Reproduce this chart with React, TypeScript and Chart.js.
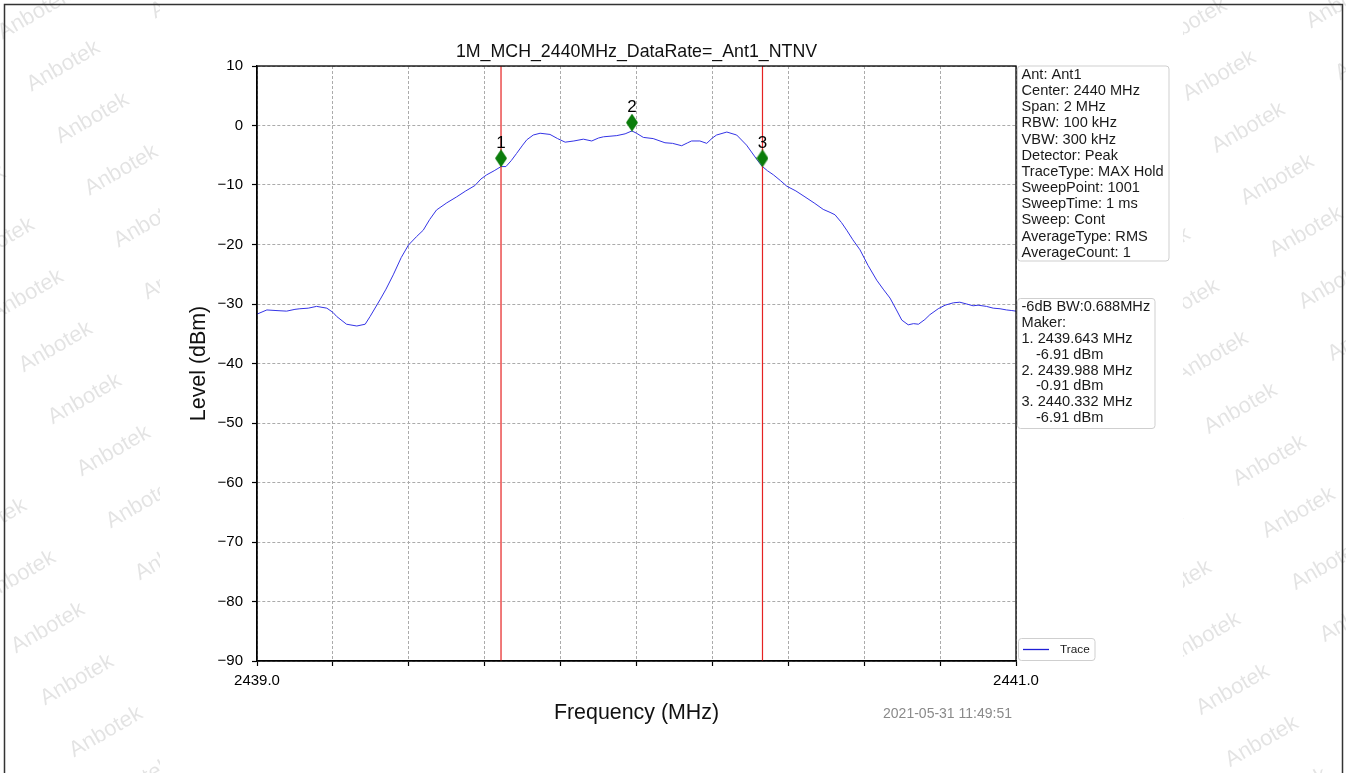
import React, { useEffect, useRef } from "react";
import { Chart, registerables } from "chart.js";

Chart.register(...registerables);

const W = 1346;
const H = 773;
const FONT = "'Liberation Sans', Arial, Helvetica, sans-serif";

// ---- data ----
const traceFreq = [
  2439.0, 2439.026, 2439.05, 2439.078, 2439.1, 2439.113, 2439.135, 2439.157, 2439.184, 2439.2,
  2439.21, 2439.236, 2439.263, 2439.285, 2439.298, 2439.324, 2439.34, 2439.359, 2439.38, 2439.399,
  2439.42, 2439.438, 2439.455, 2439.473, 2439.5, 2439.526, 2439.55, 2439.574, 2439.59, 2439.605,
  2439.625, 2439.643, 2439.656, 2439.67, 2439.684, 2439.7, 2439.711, 2439.728, 2439.746, 2439.772,
  2439.792, 2439.812, 2439.835, 2439.86, 2439.882, 2439.9, 2439.913, 2439.948, 2439.97, 2439.988,
  2440.0, 2440.018, 2440.044, 2440.075, 2440.095, 2440.119, 2440.135, 2440.145, 2440.167, 2440.185,
  2440.2, 2440.211, 2440.238, 2440.264, 2440.29, 2440.317, 2440.332, 2440.345, 2440.361, 2440.38,
  2440.396, 2440.42, 2440.444, 2440.47, 2440.492, 2440.51, 2440.523, 2440.54, 2440.554, 2440.57,
  2440.589, 2440.61, 2440.633, 2440.65, 2440.668, 2440.685, 2440.699, 2440.716, 2440.73, 2440.743,
  2440.76, 2440.773, 2440.795, 2440.813, 2440.835, 2440.852, 2440.87, 2440.887, 2440.9, 2440.922,
  2440.94, 2440.958, 2440.975, 2440.989, 2441.0,
];
const traceLevel = [
  -31.7, -31.0, -31.1, -31.2, -30.9, -30.8, -30.7, -30.4, -30.7, -31.4,
  -32.1, -33.4, -33.7, -33.4, -32.1, -29.3, -27.5, -25.1, -22.2, -20.1,
  -18.7, -17.6, -15.8, -14.2, -13.0, -12.0, -11.0, -10.1, -9.0, -8.3,
  -7.6, -6.91, -6.9, -5.9, -4.7, -3.3, -2.4, -1.6, -1.3, -1.5,
  -2.2, -2.8, -2.6, -2.3, -2.6, -2.1, -1.9, -1.7, -1.4, -0.91,
  -1.3, -2.0, -2.2, -2.9, -3.0, -3.4, -2.9, -2.6, -2.6, -3.0,
  -2.1, -1.6, -1.1, -1.6, -3.3, -5.7, -6.91, -7.6, -8.3, -9.3,
  -10.2, -11.0, -12.0, -13.1, -14.1, -14.6, -15.0, -16.3, -17.6, -19.2,
  -20.9, -23.5, -26.0, -27.5, -29.0, -31.0, -32.7, -33.5, -33.3, -33.4,
  -32.6, -31.8, -30.8, -30.2, -29.8, -29.7, -30.0, -30.3, -30.2, -30.4,
  -30.7, -30.8, -31.0, -31.1, -31.2,
];
const markerFreq = [2439.643, 2439.988, 2440.332];
const markerLevel = [-6.91, -0.91, -6.91];
const markerNames = ["1", "2", "3"];
const markerLift = 1.4; // diamond drawn slightly above the trace
const bwLineFreq = [2439.643, 2440.332];
const bandwidthMHz = 0.688;

const xMin = 2439.0;
const xMax = 2441.0;
const xStep = 0.2;
const yMin = -90;
const yMax = 10;
const yStep = 10;

const titleText = "1M_MCH_2440MHz_DataRate=_Ant1_NTNV";
const xTitle = "Frequency (MHz)";
const yTitle = "Level (dBm)";
const timestamp = "2021-05-31 11:49:51";
const seriesName = "Trace";
const watermark = "Anbotek";
const infoLines = [
  "Ant: Ant1",
  "Center: 2440 MHz",
  "Span: 2 MHz",
  "RBW: 100 kHz",
  "VBW: 300 kHz",
  "Detector: Peak",
  "TraceType: MAX Hold",
  "SweepPoint: 1001",
  "SweepTime: 1 ms",
  "Sweep: Cont",
  "AverageType: RMS",
  "AverageCount: 1",
];

const TRACE_COLOR = "#3434e6";

function makeDiamond(): HTMLCanvasElement {
  const c = document.createElement("canvas");
  c.width = 12;
  c.height = 18;
  const g = c.getContext("2d")!;
  g.fillStyle = "#0b7d0b";
  g.beginPath();
  g.moveTo(6, 0);
  g.lineTo(12, 9);
  g.lineTo(6, 18);
  g.lineTo(0, 9);
  g.closePath();
  g.fill();
  return c;
}

function box(ctx: CanvasRenderingContext2D, x: number, y: number, w: number, h: number) {
  ctx.save();
  ctx.beginPath();
  (ctx as any).roundRect ? (ctx as any).roundRect(x, y, w, h, 3) : ctx.rect(x, y, w, h);
  ctx.fillStyle = "rgba(255,255,255,0.85)";
  ctx.fill();
  ctx.strokeStyle = "#cfcfcf";
  ctx.lineWidth = 1;
  ctx.stroke();
  ctx.restore();
}

const decorPlugin = {
  id: "decor",
  beforeDraw(chart: any) {
    const ctx: CanvasRenderingContext2D = chart.ctx;
    ctx.save();
    ctx.fillStyle = "#fff";
    ctx.fillRect(0, 0, W, H);
    // watermark tiling
    ctx.font = `22px ${FONT}`;
    ctx.fillStyle = "rgba(0,0,0,0.11)";
    ctx.textAlign = "center";
    ctx.textBaseline = "middle";
    for (let m = -25; m <= 25; m++) {
      for (let n = -12; n <= 12; n++) {
        const x = 77 + 29 * m + 152.7 * n;
        const y = 680 + 52 * m - 20.9 * n;
        if (x < -100 || x > W + 100 || y < -80 || y > H + 80) continue;
        ctx.save();
        ctx.translate(x, y);
        ctx.rotate(-Math.PI / 6);
        ctx.fillText(watermark, 0, 0);
        ctx.restore();
      }
    }
    ctx.fillStyle = "#fff";
    ctx.fillRect(160, 0, 1023, H);
    ctx.restore();
  },
  afterDatasetsDraw(chart: any) {
    const ctx: CanvasRenderingContext2D = chart.ctx;
    const a = chart.chartArea;
    const xs = chart.scales.x;
    const ys = chart.scales.y;
    ctx.save();
    ctx.strokeStyle = "#000";
    ctx.lineWidth = 1.3;
    ctx.strokeRect(a.left, a.top, a.right - a.left, a.bottom - a.top);
    // marker numbers
    ctx.fillStyle = "#000";
    ctx.font = `17px ${FONT}`;
    ctx.textAlign = "center";
    ctx.textBaseline = "middle";
    markerFreq.forEach((f, i) => {
      const px = xs.getPixelForValue(f);
      const py = ys.getPixelForValue(markerLevel[i] + markerLift);
      ctx.fillText(markerNames[i], px, py - 15);
    });
    ctx.restore();
  },
  afterDraw(chart: any) {
    const ctx: CanvasRenderingContext2D = chart.ctx;
    const a = chart.chartArea;
    ctx.save();
    // title
    ctx.fillStyle = "#111";
    ctx.textAlign = "center";
    ctx.textBaseline = "alphabetic";
    ctx.font = `17.8px ${FONT}`;
    ctx.fillText(titleText, (a.left + a.right) / 2, 57);
    // axis titles
    ctx.font = `21.4px ${FONT}`;
    ctx.fillText(xTitle, (a.left + a.right) / 2, 719);
    ctx.save();
    ctx.translate(199, (a.top + a.bottom) / 2);
    ctx.rotate(-Math.PI / 2);
    ctx.textBaseline = "middle";
    ctx.fillText(yTitle, 0, 0);
    ctx.restore();
    // timestamp
    ctx.font = `14px ${FONT}`;
    ctx.fillStyle = "#8a8a8a";
    ctx.textAlign = "right";
    ctx.textBaseline = "middle";
    ctx.fillText(timestamp, 1012, 714);

    // info box
    box(ctx, 1017.5, 66, 151.5, 195);
    ctx.fillStyle = "#1a1a1a";
    ctx.textAlign = "left";
    ctx.font = `14.6px ${FONT}`;
    infoLines.forEach((t, i) => ctx.fillText(t, 1021.5, 75 + i * 16.15));

    // marker box
    const mLines: [string, number][] = [
      [`-6dB BW:${bandwidthMHz.toFixed(3)}MHz`, 1021.5],
      ["Maker:", 1021.5],
    ];
    markerFreq.forEach((f, i) => {
      mLines.push([`${i + 1}. ${f.toFixed(3)} MHz`, 1021.5]);
      mLines.push([`${markerLevel[i].toFixed(2)} dBm`, 1036]);
    });
    box(ctx, 1017.5, 298.5, 137.5, 130);
    ctx.fillStyle = "#1a1a1a";
    mLines.forEach(([t, x], i) => ctx.fillText(t, x, 306.7 + i * 15.95));

    // legend
    box(ctx, 1018.5, 638.5, 76.5, 22);
    ctx.strokeStyle = "#1f1fd6";
    ctx.lineWidth = 1.3;
    ctx.beginPath();
    ctx.moveTo(1023, 649.5);
    ctx.lineTo(1049, 649.5);
    ctx.stroke();
    ctx.fillStyle = "#1a1a1a";
    ctx.font = `11.8px ${FONT}`;
    ctx.fillText(seriesName, 1060, 649.5);

    // outer frame
    ctx.strokeStyle = "#333";
    ctx.lineWidth = 1.5;
    ctx.strokeRect(4.5, 4.5, 1338, 800);
    ctx.restore();
  },
};

export default function App() {
  const ref = useRef<HTMLCanvasElement | null>(null);

  useEffect(() => {
    if (!ref.current) return;
    const diamond = makeDiamond();
    const datasets: any[] = [
      {
        label: seriesName,
        data: traceFreq.map((f, i) => ({ x: f, y: traceLevel[i] })),
        borderColor: TRACE_COLOR,
        borderWidth: 1,
        pointRadius: 0,
        tension: 0,
        order: 3,
      },
      ...bwLineFreq.map((f) => ({
        label: "bw",
        data: [
          { x: f, y: yMax },
          { x: f, y: yMin },
        ],
        borderColor: "#e52222",
        borderWidth: 1.2,
        pointRadius: 0,
        order: 2,
      })),
      {
        label: "markers",
        data: markerFreq.map((f, i) => ({ x: f, y: markerLevel[i] + markerLift })),
        showLine: false,
        pointStyle: diamond,
        pointRadius: 8,
        order: 1,
      },
    ];

    const chart = new Chart(ref.current, {
      type: "line",
      data: { datasets },
      options: {
        responsive: false,
        animation: false,
        devicePixelRatio: 1,
        layout: { padding: { left: 0, top: 66, right: 330, bottom: 0 } },
        plugins: {
          legend: { display: false },
          title: { display: false },
          tooltip: { enabled: false },
        },
        scales: {
          x: {
            type: "linear",
            min: xMin,
            max: xMax,
            afterFit: (s: any) => {
              s.height = 112;
            },
            ticks: {
              stepSize: xStep,
              autoSkip: false,
              maxRotation: 0,
              color: "#000",
              padding: 6,
              font: { family: FONT, size: 15 },
              callback: (v: any, i: number, ticks: any[]) =>
                i === 0 || i === ticks.length - 1 ? Number(v).toFixed(1) : "",
            },
            grid: {
              color: "#ababab",
              lineWidth: 1,
              drawTicks: true,
              tickLength: 5,
              tickColor: "#000",
              tickWidth: 1.2,
              tickBorderDash: [],
            },
            border: { display: true, color: "#000", width: 1.3, dash: [3, 2] },
          },
          y: {
            type: "linear",
            min: yMin,
            max: yMax,
            afterFit: (s: any) => {
              s.width = 257;
            },
            ticks: {
              stepSize: yStep,
              color: "#000",
              padding: 9,
              font: { family: FONT, size: 15 },
              callback: (v: any) => (Number(v) < 0 ? "\u2212" + Math.abs(Number(v)) : String(v)),
            },
            grid: {
              color: "#ababab",
              lineWidth: 1,
              drawTicks: true,
              tickLength: 5,
              tickColor: "#000",
              tickWidth: 1.2,
              tickBorderDash: [],
            },
            border: { display: true, color: "#000", width: 1.3, dash: [3, 2] },
          },
        },
      },
      plugins: [decorPlugin],
    } as any);

    return () => chart.destroy();
  }, []);

  return (
    <div style={{ position: "fixed", left: 0, top: 0, width: W, height: H, background: "#fff" }}>
      <canvas ref={ref} width={W} height={H} style={{ display: "block", width: W, height: H }} />
    </div>
  );
}
